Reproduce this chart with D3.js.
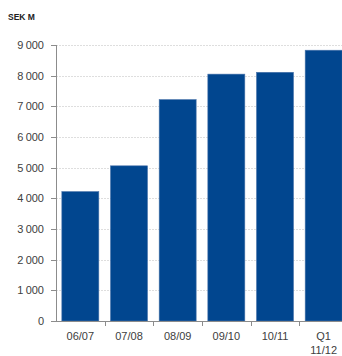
<!DOCTYPE html>
<html>
<head>
<meta charset="utf-8">
<script src="https://cdn.jsdelivr.net/npm/d3@7"></script>
<style>
  body { margin: 0; background: #fff; }
  text { font-family: "Liberation Sans", Arial, sans-serif; }
</style>
</head>
<body>
<div id="chart"></div>
<script>
// Data.
const categories = ["06/07", "07/08", "08/09", "09/10", "10/11", "Q1\n11/12"];
const values = [4220, 5060, 7220, 8050, 8110, 8830];
const yTicks = [0, 1000, 2000, 3000, 4000, 5000, 6000, 7000, 8000, 9000];
const unitLabel = "SEK M";

const W = 342, H = 356;
const Margin = { top: 45, right: -6, bottom: 35, left: 56 };

const fmt = d => d3.format(",")(d).replace(/,/g, "\u2009");

const svg = d3.select("#chart").append("svg")
    .attr("width", W)
    .attr("height", H);

const x = d3.scaleBand()
    .domain(categories)
    .range([Margin.left, W - Margin.right])
    .paddingInner(0.24)
    .paddingOuter(0.12);

const y = d3.scaleLinear()
    .domain([0, 9000])
    .range([H - Margin.bottom, Margin.top]);

// Gridlines
svg.append("g")
    .selectAll("line")
    .data(yTicks.filter(d => d > 0))
    .join("line")
        .attr("x1", Margin.left)
        .attr("x2", W)
        .attr("y1", d => Math.round(y(d)) + 0.5)
        .attr("y2", d => Math.round(y(d)) + 0.5)
        .attr("stroke", "#dedede")
        .attr("stroke-dasharray", "2,1");

// Bars
svg.append("g")
    .selectAll("rect")
    .data(values)
    .join("rect")
        .attr("x", (d, i) => x(categories[i]))
        .attr("y", d => y(d))
        .attr("width", x.bandwidth())
        .attr("height", d => y(0) - y(d))
        .attr("fill", "#01468f")
        .attr("stroke", "#4a74ab")
        .attr("stroke-width", 0.6);

// Y axis
const yAxis = svg.append("g");
yAxis.append("line")
    .attr("x1", Margin.left + 0.5)
    .attr("x2", Margin.left + 0.5)
    .attr("y1", y(9000))
    .attr("y2", y(0))
    .attr("stroke", "#8c8c8c");
yAxis.selectAll(".tick")
    .data(yTicks)
    .join("line")
        .attr("x1", Margin.left - 5)
        .attr("x2", Margin.left)
        .attr("y1", d => Math.round(y(d)) + 0.5)
        .attr("y2", d => Math.round(y(d)) + 0.5)
        .attr("stroke", "#8c8c8c");
yAxis.selectAll("text")
    .data(yTicks)
    .join("text")
        .attr("x", Margin.left - 12)
        .attr("y", d => y(d))
        .attr("dy", "0.35em")
        .attr("text-anchor", "end")
        .attr("font-size", 11)
        .attr("fill", "#404040")
        .text(fmt);

// X axis
const xAxis = svg.append("g");
xAxis.append("line")
    .attr("x1", Margin.left - 5)
    .attr("x2", W)
    .attr("y1", Math.round(y(0)) + 0.5)
    .attr("y2", Math.round(y(0)) + 0.5)
    .attr("stroke", "#8c8c8c");
xAxis.selectAll(".tick")
    .data(categories.slice(1))
    .join("line")
        .attr("x1", d => Math.round(x(d) - x.step() * x.paddingInner() / 2) + 0.5)
        .attr("x2", d => Math.round(x(d) - x.step() * x.paddingInner() / 2) + 0.5)
        .attr("y1", y(0))
        .attr("y2", y(0) + 5)
        .attr("stroke", "#8c8c8c");
xAxis.selectAll("text")
    .data(categories)
    .join("text")
        .attr("text-anchor", "middle")
        .attr("font-size", 11)
        .attr("fill", "#404040")
        .each(function (d) {
            const t = d3.select(this);
            d.split("\n").forEach((line, i) => {
                t.append("tspan")
                    .attr("x", x(d) + x.bandwidth() / 2)
                    .attr("y", y(0) + 19 + i * 14)
                    .text(line);
            });
        });

// Unit label
svg.append("text")
    .attr("x", 8)
    .attr("y", 20)
    .attr("font-size", 8.5)
    .attr("font-weight", "bold")
    .attr("fill", "#222")
    .text(unitLabel);
</script>
</body>
</html>
